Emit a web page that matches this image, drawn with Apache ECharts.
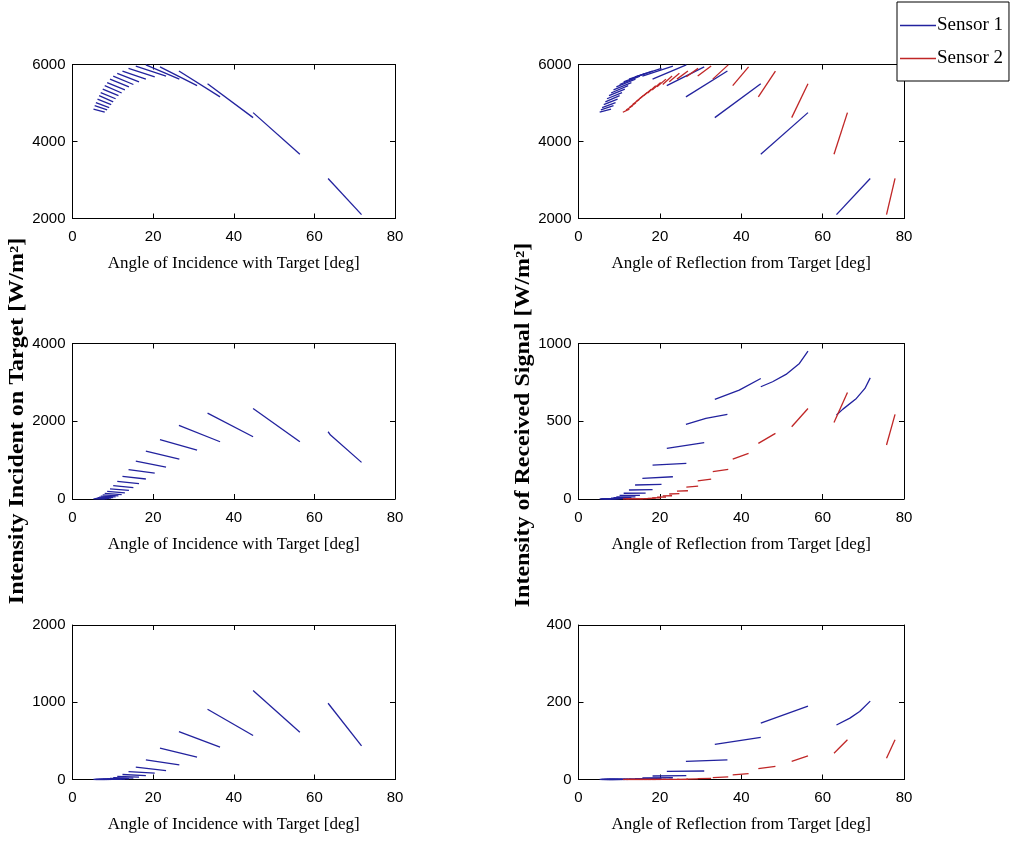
<!DOCTYPE html>
<html>
<head>
<meta charset="utf-8">
<script src="https://cdn.jsdelivr.net/npm/echarts@6/dist/echarts.min.js"></script>
<style>
  html, body { margin: 0; padding: 0; background: #fff; }
  #chart { width: 1012px; height: 845px; }
</style>
</head>
<body>
<div id="chart"></div>
<script>
// ---- Sweep segments (one per target pass) ----
// Incidence angle range of each pass [deg]; Sensor 1 reflection spans the same range.
const incRange = [
  [63.4, 71.7], [44.8, 56.4], [33.5, 44.8], [26.4, 36.6], [21.7, 30.9], [18.2, 26.5],
  [15.7, 23.2], [13.9, 20.4], [12.4, 18.2], [11.1, 16.5], [10.1, 15.1], [9.3, 14.0],
  [8.6, 13.0], [8.0, 12.2], [7.5, 11.4], [7.0, 10.7], [6.6, 10.1], [6.2, 9.6],
  [5.8, 9.1], [5.5, 8.6], [5.2, 8.0]
];
// Sensor 2 reflection angle range of each pass [deg]
const s2Range = [
  [75.7, 77.8], [62.8, 66.1], [52.4, 56.4], [44.2, 48.4], [37.9, 41.8], [33.0, 36.8],
  [29.3, 32.6], [26.5, 29.4], [24.2, 26.9], [22.3, 24.8], [20.7, 23.0], [19.3, 21.5],
  [18.1, 20.2], [17.0, 19.0], [16.0, 17.9], [15.0, 16.9], [14.1, 15.9], [13.3, 15.0],
  [12.5, 14.1], [11.7, 13.3], [10.9, 12.5]
];

// Intensity incident on target [W/m^2], at start / end of incidence range
const incTop = [
  [3040, 2100], [4750, 3670], [5500, 4620], [5830, 5160], [5940, 5450], [5990, 5620],
  [5960, 5700], [5900, 5680], [5830, 5620], [5770, 5550], [5700, 5480], [5620, 5420],
  [5530, 5340], [5450, 5260], [5360, 5190], [5270, 5110], [5190, 5030], [5100, 4960],
  [5010, 4880], [4930, 4820], [4840, 4760]
];
const incMid = [
  [1730, 942], [2330, 1473], [2210, 1602], [1893, 1473], [1525, 1259], [1233, 1028],
  [976, 822], [754, 668], [582, 514], [454, 394], [343, 291], [260, 220],
  [195, 160], [145, 115], [105, 80], [75, 55], [50, 35], [32, 20],
  [18, 10], [8, 4], [2, 0]
];
const incMidBend = { 0: [[64.0, 1645]] };
const incBot = [
  [987, 435], [1151, 612], [909, 569], [621, 418], [405, 289], [254, 190],
  [159, 116], [103, 82], [65, 50], [40, 30], [25, 18], [15, 10],
  [9, 6], [5, 3], [3, 2], [2, 1], [1, 0.5], [0.5, 0.2],
  [0.2, 0.1], [0.1, 0], [0, 0]
];

// Intensity of received signal [W/m^2], at low / high reflection angle
const recv1Mid = [
  [540, 779], [722, 951], [640, 775], [480, 544], [325, 362], [218, 229],
  [133, 143], [90, 94], [58, 60], [37, 38], [23, 23], [14, 14],
  [8, 8], [5, 5], [3, 3], [2, 2], [1, 1], [0.5, 0.5],
  [0.3, 0.3], [0.2, 0.2], [0.1, 0.1]
];
const recv1MidBend = {
  0: [[65.0, 578], [68.3, 647], [70.4, 711]],
  1: [[47.7, 754], [51.0, 801], [54.3, 872]],
  2: [[39.5, 700]],
  3: [[31.3, 518]]
};
const recv2Mid = [
  [347, 544], [492, 685], [465, 582], [358, 422], [257, 293], [176, 191],
  [116, 128], [77, 83], [50, 53], [32, 34], [20, 21], [12, 13],
  [7, 8], [4, 5], [2, 3], [1, 2], [1, 1], [0.5, 0.5],
  [0.3, 0.3], [0.2, 0.2], [0.1, 0.1]
];
const recv1Bot = [
  [141, 203], [146, 190], [91, 109], [47, 51], [21, 22], [9, 10],
  [4, 4.5], [2, 2], [1, 1], [0.5, 0.5], [0.3, 0.3], [0.2, 0.2],
  [0.1, 0.1], [0, 0], [0, 0], [0, 0], [0, 0], [0, 0],
  [0, 0], [0, 0], [0, 0]
];
const recv1BotBend = { 0: [[66.7, 159], [69.1, 176]] };
const recv2Bot = [
  [55, 103], [68, 103], [47, 61], [28, 34], [12, 15], [5, 7],
  [2.5, 3], [1, 1.5], [0.5, 0.7], [0.3, 0.4], [0.2, 0.2], [0.1, 0.1],
  [0, 0], [0, 0], [0, 0], [0, 0], [0, 0], [0, 0],
  [0, 0], [0, 0], [0, 0]
];

// ---- Axes ----
const xTicks = [0, 80, 20];                 // min, max, step
const yScales = [                            // min, max, step per panel
  [2000, 6000, 2000], [2000, 6000, 2000],
  [0, 4000, 2000], [0, 1000, 500],
  [0, 2000, 1000], [0, 400, 200]
];
const xNames = ['Angle of Incidence with Target [deg]', 'Angle of Reflection from Target [deg]'];
const yTitles = ['Intensity Incident on Target [W/m\u00B2]', 'Intensity of Received Signal [W/m\u00B2]'];
const sensorNames = ['Sensor 1', 'Sensor 2'];

const BLUE = '#22229e';
const RED = '#c02626';
const tickFont = "'Liberation Sans', Arial, sans-serif";
const serif = "'Liberation Serif', 'Times New Roman', serif";

const grids = [
  { left: 72.5, top: 64.5, width: 322.5, height: 154 },
  { left: 578.5, top: 64.5, width: 325.5, height: 154 },
  { left: 72.5, top: 343.5, width: 322.5, height: 155.5 },
  { left: 578.5, top: 343.5, width: 325.5, height: 155.5 },
  { left: 72.5, top: 625, width: 322.5, height: 154.5 },
  { left: 578.5, top: 625, width: 325.5, height: 154.5 }
];

// segment builders
function forward(range, vals, bends, i) {
  const pts = [[range[0], vals[0]]];
  (bends && bends[i] || []).forEach(p => pts.push(p));
  pts.push([range[1], vals[1]]);
  return pts;
}
// incident value plotted against reflection angle: low reflection angle meets end of incidence sweep
function mirrored(range, vals) {
  return [[range[0], vals[1]], [range[1], vals[0]]];
}

const series = [];
function addSeg(grid, sensor, pts) {
  const c = sensor === 0 ? BLUE : RED;
  series.push({
    type: 'line', name: sensorNames[sensor], xAxisIndex: grid, yAxisIndex: grid,
    data: pts, symbol: 'none', showSymbol: false, silent: true, animation: false,
    color: c, lineStyle: { width: 1.3, color: c }, clip: true, z: 3
  });
}
for (let i = 0; i < incRange.length; i++) {
  addSeg(0, 0, forward(incRange[i], incTop[i], null, i));
  addSeg(2, 0, forward(incRange[i], incMid[i], incMidBend, i));
  addSeg(4, 0, forward(incRange[i], incBot[i], null, i));
  addSeg(1, 1, mirrored(s2Range[i], incTop[i]));
  addSeg(1, 0, mirrored(incRange[i], incTop[i]));
  addSeg(3, 1, forward(s2Range[i], recv2Mid[i], null, i));
  addSeg(3, 0, forward(incRange[i], recv1Mid[i], recv1MidBend, i));
  addSeg(5, 1, forward(s2Range[i], recv2Bot[i], null, i));
  addSeg(5, 0, forward(incRange[i], recv1Bot[i], recv1BotBend, i));
}

const xAxis = [], yAxis = [];
const lineStyle = { color: '#000', width: 1 };
const tick = { show: true, inside: true, length: 5, lineStyle: { color: '#000', width: 1 } };
const plain = v => String(v);
grids.forEach((g, k) => {
  xAxis.push({
    type: 'value', gridIndex: k, position: 'bottom',
    min: xTicks[0], max: xTicks[1], interval: xTicks[2],
    axisLine: { show: true, onZero: false, lineStyle },
    axisTick: tick, splitLine: { show: false },
    axisLabel: { color: '#000', fontFamily: tickFont, fontSize: 15, margin: 11, formatter: plain },
    name: xNames[k % 2], nameLocation: 'middle', nameGap: 37,
    nameTextStyle: { color: '#000', fontFamily: serif, fontSize: 17 }
  });
  yAxis.push({
    type: 'value', gridIndex: k, position: 'left',
    min: yScales[k][0], max: yScales[k][1], interval: yScales[k][2],
    axisLine: { show: true, onZero: false, lineStyle },
    axisTick: tick, splitLine: { show: false },
    axisLabel: { color: '#000', fontFamily: tickFont, fontSize: 15, margin: 7, formatter: plain }
  });
});
grids.forEach((g, k) => {
  xAxis.push({
    type: 'value', gridIndex: k, position: 'top',
    min: xTicks[0], max: xTicks[1], interval: xTicks[2],
    axisLine: { show: true, onZero: false, lineStyle },
    axisTick: tick, axisLabel: { show: false }, splitLine: { show: false }
  });
  yAxis.push({
    type: 'value', gridIndex: k, position: 'right',
    min: yScales[k][0], max: yScales[k][1], interval: yScales[k][2],
    axisLine: { show: true, onZero: false, lineStyle },
    axisTick: tick, axisLabel: { show: false }, splitLine: { show: false }
  });
});

const chart = echarts.init(document.getElementById('chart'), null, { renderer: 'canvas' });
chart.setOption({
  animation: false,
  backgroundColor: '#fff',
  grid: grids.map(g => Object.assign({ containLabel: false }, g)),
  xAxis, yAxis, series,
  legend: {
    data: sensorNames, orient: 'vertical', left: 897, top: 2,
    icon: 'rect', itemWidth: 36, itemHeight: 1.5, itemGap: 14,
    padding: [14, 6, 13, 3],
    backgroundColor: '#fff', borderColor: '#000', borderWidth: 1,
    textStyle: { color: '#000', fontFamily: serif, fontSize: 19, padding: [0, 0, 0, -4] },
    selectedMode: false, z: 10
  },
  graphic: [
    {
      type: 'text', x: 18, y: 421, rotation: Math.PI / 2, scaleX: 1.2,
      style: { text: yTitles[0], font: 'bold 20px ' + serif, fill: '#000', align: 'center', verticalAlign: 'middle' }
    },
    {
      type: 'text', x: 524, y: 425, rotation: Math.PI / 2, scaleX: 1.2,
      style: { text: yTitles[1], font: 'bold 20px ' + serif, fill: '#000', align: 'center', verticalAlign: 'middle' }
    }
  ]
});
</script>
</body>
</html>
